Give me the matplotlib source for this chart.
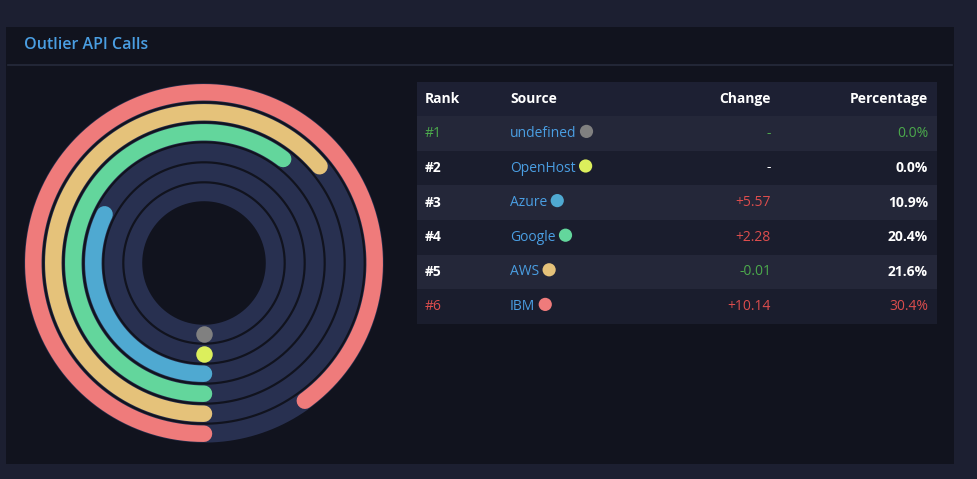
import numpy as np
import matplotlib
matplotlib.use("Agg")
import matplotlib.pyplot as plt
from matplotlib.patches import Rectangle, Circle

# ---------------- data ----------------
title = "Outlier API Calls"
ranks = ["#1", "#2", "#3", "#4", "#5", "#6"]
sources = ["undefined", "OpenHost", "Azure", "Google", "AWS", "IBM"]
changes = ["-", "-", "+5.57", "+2.28", "-0.01", "+10.14"]
percent_values = [0.0, 0.0, 10.9, 20.4, 21.6, 30.4]
percent_labels = ["0.0%", "0.0%", "10.9%", "20.4%", "21.6%", "30.4%"]
source_colors = ["#808080", "#dcef5c", "#4fa9d1", "#63d69c", "#e5c27a", "#ef7b7b"]
headers = ["Rank", "Source", "Change", "Percentage"]
scale_max = 33.8

# ---------------- style ----------------
W, H = 977, 479
BG = "#1c1f31"
PANEL = "#11131e"
TRACK = "#283050"
HEAD_BG = "#1d2033"
ROW_LIGHT = "#242739"
ROW_DARK = "#1a1d2d"
BLUE = "#4a9ee2"
GREEN = "#4caa4c"
RED = "#dc4d4d"
WHITE = "#ffffff"
FONT = ["Open Sans", "DejaVu Sans"]

fig = plt.figure(figsize=(W / 100, H / 100), dpi=100, facecolor=BG)
base = fig.add_axes([0, 0, 1, 1])
base.set_xlim(0, W)
base.set_ylim(H, 0)
base.axis("off")

# panel
base.add_patch(Rectangle((6, 27), 948, 437, facecolor=PANEL, edgecolor="none"))
base.plot([8, 952], [64.5, 64.5], color="#262a3c", lw=1.2)
base.text(24, 45, title, color=BLUE, fontsize=11.5, fontweight="semibold",
          family=FONT, va="center", ha="left")

# table
tx0, tx1 = 417, 937
row_h = 34.6
head_top = 81.5
base.add_patch(Rectangle((tx0, head_top), tx1 - tx0, row_h, facecolor=HEAD_BG, edgecolor="none"))
for i in range(len(ranks)):
    y0 = head_top + row_h * (i + 1)
    base.add_patch(Rectangle((tx0, y0), tx1 - tx0, row_h,
                             facecolor=ROW_LIGHT if i % 2 == 0 else ROW_DARK, edgecolor="none"))

col_x = [425, 510, 771, 928]
col_ha = ["left", "left", "right", "right"]
fs = 10
hy = head_top + row_h / 2
for h, x, ha in zip(headers, col_x, col_ha):
    base.text(x, hy, h, color=WHITE, fontsize=fs, fontweight="bold", family=FONT,
              ha=ha, va="center")

fig.canvas.draw()
renderer = fig.canvas.get_renderer()
inv = base.transData.inverted()

n = len(ranks)
for i in range(n):
    yc = head_top + row_h * (i + 1.5)
    # rank
    if i == 0:
        rc, rw = GREEN, "normal"
    elif i == n - 1:
        rc, rw = RED, "normal"
    else:
        rc, rw = WHITE, "bold"
    base.text(col_x[0], yc, ranks[i], color=rc, fontsize=fs, fontweight=rw, family=FONT,
              ha="left", va="center")
    # source
    st = base.text(col_x[1], yc, sources[i], color=BLUE, fontsize=fs, family=FONT,
                   ha="left", va="center")
    bb = st.get_window_extent(renderer=renderer)
    x_end = inv.transform((bb.x1, bb.y0))[0]
    base.add_patch(Circle((x_end + 10, yc - 2), 6.6, facecolor=source_colors[i], edgecolor="none"))
    # change
    ch = changes[i]
    if ch == "-":
        cc = GREEN if i == 0 else WHITE
    elif ch.startswith("-"):
        cc = GREEN
    else:
        cc = RED
    base.text(col_x[2], yc, ch, color=cc, fontsize=fs, family=FONT, ha="right", va="center")
    # percentage
    if i == 0:
        pc, pw = GREEN, "normal"
    elif i == n - 1:
        pc, pw = RED, "normal"
    else:
        pc, pw = WHITE, "bold"
    base.text(col_x[3], yc, percent_labels[i], color=pc, fontsize=fs, fontweight=pw,
              family=FONT, ha="right", va="center")

# radial bar chart
cx, cy, R = 204, 263, 182
pax = fig.add_axes([(cx - R) / W, (H - cy - R) / H, 2 * R / W, 2 * R / H], projection="polar")
pax.set_facecolor("none")
pax.set_theta_zero_location("S")
pax.set_theta_direction(-1)
pax.set_ylim(0, R)
pax.axis("off")

px2pt = 72 / 100
ring_r = [70.7 + 20 * i for i in range(n)]
theta_full = np.linspace(0, 2 * np.pi, 400)
for r in ring_r:
    pax.plot(theta_full, np.full_like(theta_full, r), color=TRACK, lw=17.8 * px2pt,
             solid_capstyle="butt", zorder=1)

for r, v, c in zip(ring_r, percent_values, source_colors):
    ang = v / scale_max * 2 * np.pi
    if ang <= 0:
        pax.plot([0], [r], marker="o", ms=16.5 * px2pt, color=c, mec="none", zorder=3)
    else:
        th = np.linspace(0, ang, 300)
        pax.plot(th, np.full_like(th, r), color=c, lw=16.5 * px2pt,
                 solid_capstyle="round", zorder=3)

fig.savefig("out.png", dpi=100, facecolor=BG)
